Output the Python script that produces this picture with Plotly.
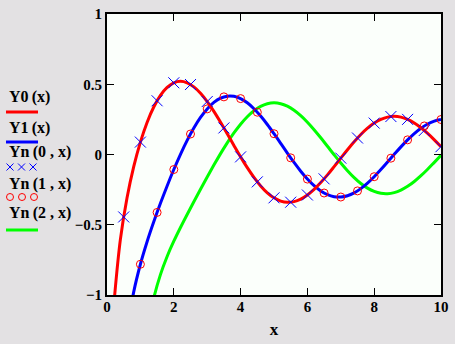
import plotly.graph_objects as go

# Line data (x step 0.2)
x_line = [round(0.2 * i, 1) for i in range(1, 51)]
y0_line = [-1.0811, -0.6060, -0.3085, -0.0868, 0.0883, 0.2281, 0.3379, 0.4204, 0.4774, 0.5104,
           0.5208, 0.5104, 0.4813, 0.4359, 0.3769, 0.3071, 0.2296, 0.1477, 0.0645, -0.0169,
           -0.0938, -0.1633, -0.2235, -0.2723, -0.3085, -0.3313, -0.3402, -0.3354, -0.3177, -0.2882,
           -0.2483, -0.1999, -0.1452, -0.0864, -0.0259, 0.0339, 0.0907, 0.1424, 0.1872, 0.2235,
           0.2501, 0.2662, 0.2715, 0.2659, 0.2499, 0.2245, 0.1907, 0.1502, 0.1045, 0.0557]
y1_line = [-3.3238, -1.7809, -1.2604, -0.9781, -0.7812, -0.6211, -0.4791, -0.3476, -0.2237, -0.1070,
           0.0015, 0.1005, 0.1884, 0.2635, 0.3247, 0.3707, 0.4010, 0.4154, 0.4141, 0.3979,
           0.3680, 0.3260, 0.2737, 0.2136, 0.1479, 0.0792, 0.0101, -0.0568, -0.1192, -0.1750,
           -0.2223, -0.2596, -0.2858, -0.3002, -0.3027, -0.2934, -0.2731, -0.2428, -0.2039, -0.1581,
           -0.1072, -0.0535, 0.0011, 0.0544, 0.1043, 0.1491, 0.1871, 0.2171, 0.2379, 0.2490]
y2_line = [None, None, None, None, -1.6507, -1.2633, -1.0223, -0.8549, -0.7260, -0.6174,
           -0.5194, -0.4266, -0.3364, -0.2477, -0.1604, -0.0754, 0.0063, 0.0831, 0.1534, 0.2159,
           0.2690, 0.3115, 0.3425, 0.3613, 0.3677, 0.3618, 0.3439, 0.3151, 0.2766, 0.2299,
           0.1766, 0.1188, 0.0586, -0.0019, -0.0606, -0.1154, -0.1645, -0.2063, -0.2395, -0.2630,
           -0.2762, -0.2789, -0.2712, -0.2535, -0.2267, -0.1921, -0.1509, -0.1050, -0.0559, -0.0059]

# Marker data (x step 0.5)
x_mark = [0.5 * i for i in range(1, 21)]
yn0_mark = [-0.4445, 0.0883, 0.3824, 0.5104, 0.4981, 0.3769, 0.1890, -0.0169, -0.1947, -0.3085,
            -0.3395, -0.2882, -0.1732, -0.0259, 0.1173, 0.2235, 0.2702, 0.2499, 0.1712, 0.0557]
yn1_mark = [-1.4715, -0.7812, -0.4123, -0.1070, 0.1459, 0.3247, 0.4102, 0.3979, 0.3010, 0.1479,
            -0.0238, -0.1750, -0.2741, -0.3027, -0.2591, -0.1581, -0.0262, 0.1043, 0.2032, 0.2490]

legend_labels = ["Y0\u2009(x)", "Y1\u2009(x)", "Yn\u2009(0 , x)", "Yn\u2009(1 , x)", "Yn\u2009(2 , x)"]

RED, BLUE, GREEN = "#ff0000", "#0000ff", "#00ff00"
FONT = "Liberation Serif"

fig = go.Figure()
fig.add_trace(go.Scatter(x=x_line, y=y2_line, mode="lines", line=dict(color=GREEN, width=3, shape="spline"), connectgaps=False))
fig.add_trace(go.Scatter(x=x_line, y=y1_line, mode="lines", line=dict(color=BLUE, width=3, shape="spline")))
fig.add_trace(go.Scatter(x=x_line, y=y0_line, mode="lines", line=dict(color=RED, width=3, shape="spline")))
fig.add_trace(go.Scatter(x=x_mark, y=yn0_mark, mode="markers",
                         marker=dict(symbol="x-thin-open", size=11, color=BLUE, line=dict(color=BLUE, width=1))))
fig.add_trace(go.Scatter(x=x_mark, y=yn1_mark, mode="markers",
                         marker=dict(symbol="circle-open", size=8, color=RED, line=dict(color=RED, width=1))))

L, R, T, B = 107, 14, 14, 49
W, H = 455, 344
PW, PH = W - L - R, H - T - B


def px(xp):
    return (xp - L) / PW


def py(yp):
    return (H - B - yp) / PH


annotations = []
shapes = []
text_y = [97, 128, 152, 184, 213]
sym_y = [112, 142, 167, 197, 230]
for lab, ty in zip(legend_labels, text_y):
    annotations.append(dict(xref="paper", yref="paper", x=px(7), y=py(ty), text="<b>" + lab + "</b>", showarrow=False,
                            xanchor="left", yanchor="middle",
                            font=dict(family=FONT, size=16, color="black")))
for col, sy in [(RED, sym_y[0]), (BLUE, sym_y[1]), (GREEN, sym_y[4])]:
    shapes.append(dict(type="line", xref="paper", yref="paper", x0=px(6), x1=px(38), y0=py(sy), y1=py(sy),
                       line=dict(color=col, width=3)))
for cx in [10, 21.5, 33]:
    s = 3.5
    shapes.append(dict(type="line", xref="paper", yref="paper", x0=px(cx - s), x1=px(cx + s),
                       y0=py(sym_y[2] - s), y1=py(sym_y[2] + s), line=dict(color=BLUE, width=1)))
    shapes.append(dict(type="line", xref="paper", yref="paper", x0=px(cx - s), x1=px(cx + s),
                       y0=py(sym_y[2] + s), y1=py(sym_y[2] - s), line=dict(color=BLUE, width=1)))
for cx in [10, 22, 34]:
    r = 3.5
    shapes.append(dict(type="circle", xref="paper", yref="paper", x0=px(cx - r), x1=px(cx + r),
                       y0=py(sym_y[3] - r), y1=py(sym_y[3] + r), line=dict(color=RED, width=1)))

axis_common = dict(showline=True, linecolor="black", linewidth=2, mirror="ticks", ticks="inside",
                   ticklen=7, tickwidth=1, tickcolor="black", showgrid=False, zeroline=False,
                   automargin=False,
                   tickfont=dict(family=FONT, size=15, color="black", weight="bold"))

fig.update_layout(
    width=W, height=H, margin=dict(l=L, r=R, t=T, b=B),
    paper_bgcolor="#e3e1e3", plot_bgcolor="#fbfffb", showlegend=False,
    xaxis=dict(range=[0, 10], dtick=2, tick0=0, ticklabelstandoff=-3,
               title=dict(text="<b>x</b>", font=dict(family=FONT, size=17, color="black"), standoff=9),
               **axis_common),
    yaxis=dict(range=[-1, 1], dtick=0.5, tick0=0, **axis_common),
    annotations=annotations, shapes=shapes,
)
fig.write_html("out.html")
